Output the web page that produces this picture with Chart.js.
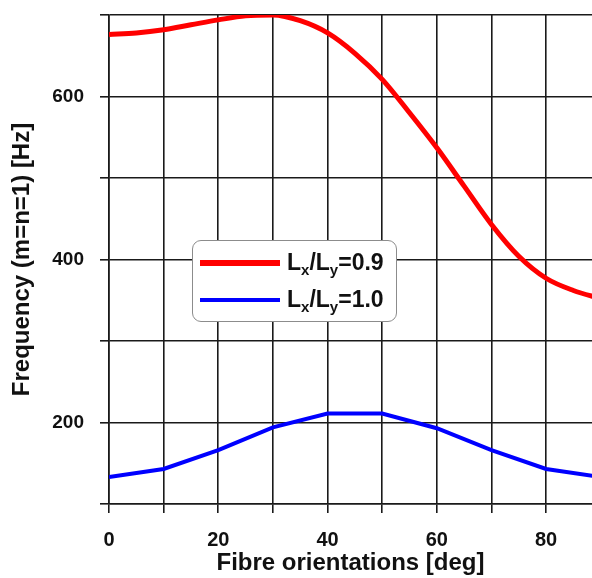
<!DOCTYPE html>
<html>
<head>
<meta charset="utf-8">
<script src="https://cdn.jsdelivr.net/npm/chart.js@4"></script>
<style>
  html, body { margin: 0; padding: 0; background: #fff; }
  #wrap { position: relative; width: 592px; height: 578px; }
  #legend {
    position: absolute; left: 192px; top: 240px; width: 205px; height: 82px;
    border: 1.5px solid #8c8c8c; border-radius: 9px; background: #fff;
    font-family: "Liberation Sans", Arial, sans-serif; font-weight: bold; font-size: 23px; color: #111;
    box-sizing: border-box;
  }
  #legend .row { position: absolute; left: 0; height: 30px; display: flex; align-items: center; }
  #legend .swatch { margin-left: 7px; width: 80px; margin-right: 7px; }
  #legend sub { font-size: 15px; vertical-align: -5px; }
</style>
</head>
<body>
<div id="wrap">
  <canvas id="freqChart" width="592" height="578"></canvas>
  <div id="legend"></div>
</div>
<script>
// fibre angle [deg] and first-mode frequency [Hz]
const redAngles = [0, 5, 10, 15, 20, 25, 30, 35, 40, 45, 50, 55, 60, 65, 70, 75, 80, 85, 90];
const redFreq = [676, 678, 682, 688, 694, 699, 700, 693, 678, 653, 621, 580, 537, 490, 443, 404, 377, 362, 352];
const blueAngles = [0, 10, 20, 30, 40, 50, 60, 70, 80, 90];
const blueFreq = [133, 143, 166, 194, 211, 211, 193, 166, 143, 133];
const seriesNames = [['L', 'x', '/L', 'y', '=0.9'], ['L', 'x', '/L', 'y', '=1.0']];
const seriesColors = ['#ff0000', '#0000ff'];

const font = '"Liberation Sans", Arial, sans-serif';

const toPoints = (xs, ys) => xs.map((x, i) => ({ x: x, y: ys[i] }));

new Chart(document.getElementById('freqChart').getContext('2d'), {
  type: 'line',
  data: {
    datasets: [{
      label: 'Lx/Ly=0.9',
      data: toPoints(redAngles, redFreq),
      borderColor: seriesColors[0],
      borderWidth: 5,
      pointRadius: 0,
      cubicInterpolationMode: 'monotone'
    }, {
      label: 'Lx/Ly=1.0',
      data: toPoints(blueAngles, blueFreq),
      borderColor: seriesColors[1],
      borderWidth: 4,
      pointRadius: 0,
      tension: 0
    }]
  },
  options: {
    responsive: false,
    animation: false,
    layout: { padding: { top: 15, right: 0, left: 8, bottom: 0 } },
    plugins: { legend: { display: false }, tooltip: { enabled: false } },
    scales: {
      x: {
        type: 'linear',
        min: 0,
        max: 88.4,
        grid: { color: '#1a1a1a', lineWidth: 1.6, tickLength: 9 },
        border: { color: '#1a1a1a', width: 1.6 },
        ticks: {
          stepSize: 10,
          includeBounds: false,
          autoSkip: false,
          maxRotation: 0,
          padding: 15,
          color: '#111',
          font: { family: font, size: 20, weight: 'bold' },
          callback: v => (v % 20 === 0 ? v : '')
        },
        title: {
          display: true,
          text: 'Fibre orientations [deg]',
          color: '#111',
          padding: { top: 0, bottom: 0 },
          font: { family: font, size: 24, weight: 'bold' }
        },
        afterFit: scale => { scale.height = 74; scale.paddingLeft = 0; scale.paddingRight = 0; }
      },
      y: {
        min: 100,
        max: 700,
        grid: { color: '#1a1a1a', lineWidth: 1.6, tickLength: 9 },
        border: { color: '#1a1a1a', width: 1.6 },
        ticks: {
          stepSize: 100,
          autoSkip: false,
          padding: 16,
          color: '#111',
          font: { family: font, size: 19, weight: 'bold' },
          callback: v => (v % 200 === 0 ? v : '')
        },
        title: {
          display: true,
          text: 'Frequency (m=n=1) [Hz]',
          color: '#111',
          padding: { top: 0, bottom: 0 },
          font: { family: font, size: 24, weight: 'bold' }
        },
        afterFit: scale => { scale.width = 101; scale.paddingTop = 0; scale.paddingBottom = 0; }
      }
    }
  }
});

// legend with subscripts, built from the series names
const legend = document.getElementById('legend');
seriesNames.forEach((parts, i) => {
  const row = document.createElement('div');
  row.className = 'row';
  row.style.top = (7 + i * 37) + 'px';
  const sw = document.createElement('span');
  sw.className = 'swatch';
  sw.style.height = (i === 0 ? 6 : 4) + 'px';
  sw.style.background = seriesColors[i];
  const txt = document.createElement('span');
  txt.innerHTML = parts[0] + '<sub>' + parts[1] + '</sub>' + parts[2] + '<sub>' + parts[3] + '</sub>' + parts[4];
  row.appendChild(sw);
  row.appendChild(txt);
  legend.appendChild(row);
});
</script>
</body>
</html>
